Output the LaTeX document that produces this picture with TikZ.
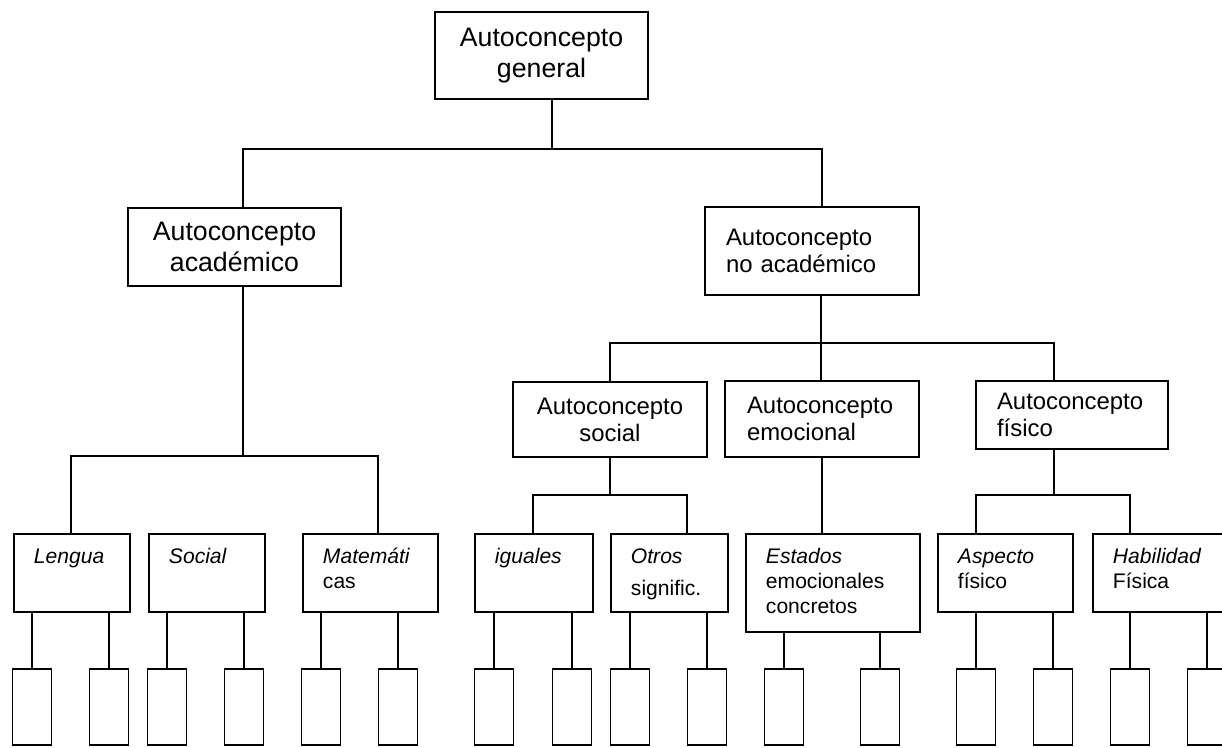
\documentclass[tikz,border=0pt]{standalone}
\usepackage{fontspec}
\setmainfont{Liberation Sans}

\begin{document}
\begin{tikzpicture}[x=0.02cm, y=-0.02cm,
  box/.style={rectangle, draw, line width=1.1pt},
  wire/.style={line width=1.1pt},
  head/.style={box, inner xsep=0.2cm, inner ysep=0pt, text width=3.86cm, align=center, font=\fontsize{15.2}{17.6}\selectfont},
  mid/.style={box, inner xsep=0.42cm, inner ysep=0pt, align=left, font=\fontsize{13.6}{15.3}\selectfont},
  sub/.style={box, anchor=north west, inner xsep=0.4cm, inner ysep=0pt, align=left, text height=0.6cm, text depth=0.96cm, font=\fontsize{12}{14}\selectfont},
  leaf/.style={box, inner sep=0pt, minimum width=0.78cm, minimum height=1.52cm}]

\useasboundingbox (0,0) rectangle (1222,747);
\clip (0,0) rectangle (1222,747);

\node[head, minimum height=1.74cm] (gen) at (541.5,55.5) {Autoconcepto\\general};
\node[head, minimum height=1.56cm] (acad) at (234.5,247) {Autoconcepto\\académico};
\node[mid, text width=3.44cm, minimum height=1.76cm] (noac) at (812,251) {Autoconcepto\\no académico};
\node[mid, text width=3.04cm, align=center, minimum height=1.5cm] (soc) at (610,419.5) {Autoconcepto\\social};
\node[mid, text width=3cm, inner xsep=0.44cm, minimum height=1.52cm] (emo) at (822,419) {Autoconcepto\\emocional};
\node[mid, text width=3cm, minimum height=1.36cm] (fis) at (1072,415) {Autoconcepto\\físico};

\node[sub, text width=1.52cm] (leng) at (13,533) {\textit{Lengua}};
\node[sub, text width=1.52cm] (socl) at (148,533) {\textit{Social}};
\node[sub, text width=1.9cm] (mate) at (302,533) {\textit{Matemáti}\\cas};
\node[sub, text width=1.56cm] (igua) at (474,533) {\textit{iguales}};
\node[sub, text width=1.54cm] (otro) at (610,533) {\textit{Otros}\\[4pt]signific.};
\node[sub, text width=2.68cm, text depth=1.36cm] (esta) at (745,533) {\textit{Estados}\\emocionales\\concretos};
\node[sub, text width=1.9cm] (aspe) at (937,533) {\textit{Aspecto}\\físico};
\node[sub, text width=1.9cm] (habi) at (1092,533) {\textit{Habilidad}\\Física};

\coordinate (j0) at (552,149);
\coordinate (j0l) at (243,149);
\coordinate (j0r) at (822,149);
\draw[wire] (gen.south -| j0) -- (j0);
\draw[wire] (acad.north -| j0l) -- (j0l) -- (j0r) -- (noac.north -| j0r);

\coordinate (j1) at (243,456);
\coordinate (j1l) at (71,456);
\coordinate (j1r) at (378,456);
\draw[wire] (acad.south -| j1) -- (j1);
\draw[wire] (leng.north -| j1l) -- (j1l) -- (j1r) -- (mate.north -| j1r);

\coordinate (j2) at (821,343);
\coordinate (j2l) at (610,343);
\coordinate (j2r) at (1054,343);
\draw[wire] (noac.south -| j2) -- (j2) -- (emo.north -| j2);
\draw[wire] (soc.north -| j2l) -- (j2l) -- (j2r) -- (fis.north -| j2r);

\coordinate (j3) at (610,495);
\coordinate (j3l) at (533,495);
\coordinate (j3r) at (687,495);
\draw[wire] (soc.south -| j3) -- (j3);
\draw[wire] (igua.north -| j3l) -- (j3l) -- (j3r) -- (otro.north -| j3r);

\draw[wire] (emo.south) -- (esta.north -| emo.south);

\coordinate (j4) at (1054,495);
\coordinate (j4l) at (976,495);
\coordinate (j4r) at (1130,495);
\draw[wire] (fis.south -| j4) -- (j4);
\draw[wire] (aspe.north -| j4l) -- (j4l) -- (j4r) -- (habi.north -| j4r);

\foreach \p/\a/\b in {leng/32/109, socl/167/244, mate/321/398, igua/494/572,
    otro/630/707, esta/784/880, aspe/976/1053, habi/1130/1207}{
  \node[leaf] (\p1) at (\a,707) {};
  \node[leaf] (\p2) at (\b,707) {};
  \draw[wire] (\p1 |- \p.south) -- (\p1.north);
  \draw[wire] (\p2 |- \p.south) -- (\p2.north);
}

\end{tikzpicture}
\end{document}
